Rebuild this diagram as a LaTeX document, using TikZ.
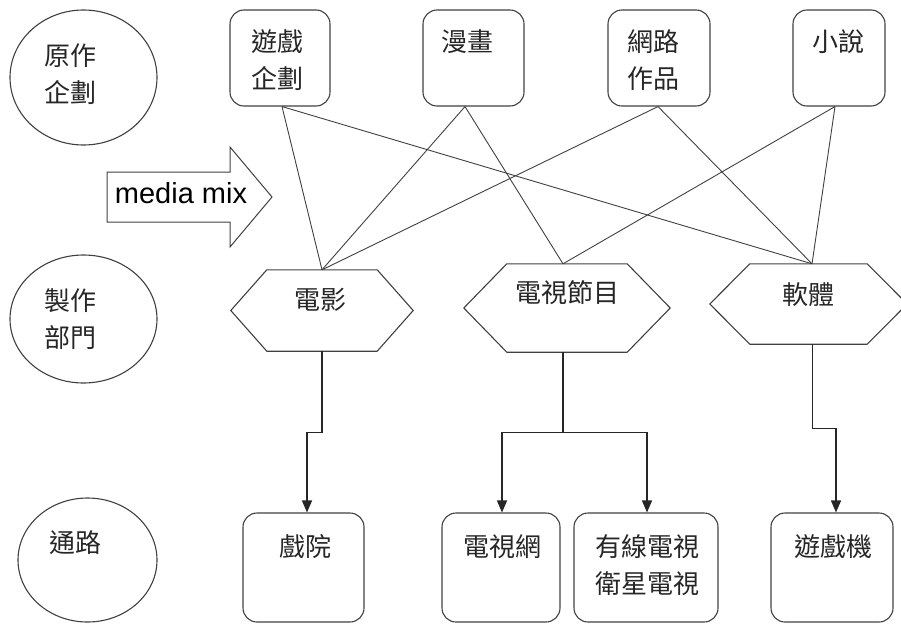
\documentclass[tikz,border=0pt]{standalone}
\usepackage{fontspec}
\setmainfont{Liberation Sans}
\newfontfamily\cjk{Noto Sans CJK TC}
\usetikzlibrary{arrows.meta,shapes.geometric,calc}
\newcommand\drawhexagon[2]{\draw[lc] (#1.west) -- ([xshift=#2]#1.north west) -- ([xshift=-#2]#1.north east) -- (#1.east) -- ([xshift=-#2]#1.south east) -- ([xshift=#2]#1.south west) -- cycle;}
\begin{document}
\begin{tikzpicture}[x=1pt,y=-1pt,
  lc/.style={draw=black!75, line width=1.1pt},
  ell/.style={ellipse, lc, inner sep=0pt},
  rbox/.style={rectangle, rounded corners=14pt, lc, inner sep=0pt},
  hexbox/.style={rectangle, inner sep=0pt},
  cjktxt/.style={font=\cjk\fontsize{26}{37}\selectfont, align=center, inner sep=0pt, text=black!85},
  link/.style={draw=black!75, line width=0.9pt},
  trunk/.style={draw=black!85, line width=1.4pt},
  flow/.style={trunk, -{Triangle[width=10pt,length=12pt]}},
]
\useasboundingbox (0,0) rectangle (901,624);

% row labels (ellipses)
\node[ell, minimum width=147pt, minimum height=135pt] (c1) at (83.5,77.5) {};
\node[cjktxt] (c1t) at (70,74) {原作\\企劃};
\node[ell, minimum width=147pt, minimum height=128pt] (c2) at (83.5,319) {};
\node[cjktxt] (c2t) at (70,319) {製作\\部門};
\node[ell, minimum width=139pt, minimum height=124pt] (c3) at (87.5,560) {};
\node[cjktxt] (c3t) at (75,543) {通路};

% top boxes
\node[rbox, minimum width=100pt, minimum height=96pt] (g1) at (280,58) {};
\node[rbox, minimum width=101pt, minimum height=96pt] (g2) at (473.5,58) {};
\node[rbox, minimum width=102pt, minimum height=96pt] (g3) at (659,58) {};
\node[rbox, minimum width=92pt, minimum height=96pt] (g4) at (839,58) {};
\node[cjktxt] (g1t) at (277,60) {遊戲\\企劃};
\node[cjktxt] (g2t) at (467,42) {漫畫};
\node[cjktxt] (g3t) at (653,60) {網路\\作品};
\node[cjktxt] (g4t) at (838,42) {小說};

% media mix arrow
\draw[lc, line width=1pt] (107,172) -- (230,172) -- (230,147) -- (272,197) -- (230,247) -- (230,222) -- (107,222) -- cycle;
\node[anchor=base, inner sep=0pt, font=\fontsize{29}{34}\selectfont] (mm) at (181,203) {media mix};

% hexagons
\node[hexbox, minimum width=182pt, minimum height=81pt] (film) at (322,310.5) {};
\node[hexbox, minimum width=206pt, minimum height=88pt] (tv) at (567,308) {};
\node[hexbox, minimum width=197pt, minimum height=80pt] (soft) at (808.5,304) {};
\drawhexagon{film}{36pt}
\drawhexagon{tv}{43pt}
\drawhexagon{soft}{40pt}
\node[cjktxt] (filmt) at (320,300) {電影};
\node[cjktxt] (tvt) at (567,293) {電視節目};
\node[cjktxt] (softt) at (808,295) {軟體};

% connection points
\coordinate (g1b) at ([xshift=2pt]g1.south);
\coordinate (g2b) at ([xshift=-8.5pt]g2.south);
\coordinate (g3b) at ([xshift=-1pt]g3.south);
\coordinate (g4b) at ([xshift=-4pt]g4.south);
\coordinate (filmn) at (film.north);
\coordinate (tvn) at ([xshift=-4pt]tv.north);
\coordinate (softn) at ([xshift=3.5pt]soft.north);

\draw[link] (g1b) -- (filmn);
\draw[link] (g1b) -- (softn);
\draw[link] (g2b) -- (filmn);
\draw[link] (g2b) -- (tvn);
\draw[link] (g3b) -- (filmn);
\draw[link] (g3b) -- (softn);
\draw[link] (g4b) -- (tvn);
\draw[link] (g4b) -- (softn);

% bottom boxes
\node[rbox, minimum width=121pt, minimum height=109pt] (b1) at (303.5,567.5) {};
\node[rbox, minimum width=118pt, minimum height=109pt] (b2) at (501,567.5) {};
\node[rbox, minimum width=144pt, minimum height=109pt] (b3) at (646,567.5) {};
\node[rbox, minimum width=122pt, minimum height=109pt] (b4) at (832,567.5) {};
\node[cjktxt] (b1t) at (305,547) {戲院};
\node[cjktxt] (b2t) at (502,547) {電視網};
\node[cjktxt] (b3t) at (647,565) {有線電視\\衛星電視};
\node[cjktxt] (b4t) at (833,547) {遊戲機};

% distribution flows
\draw[flow] (film.south) -- ++(0,81) -| ([xshift=3.5pt]b1.north);
\draw[trunk] ([xshift=-4pt]tv.south) -- ++(0,80) coordinate (tvj);
\draw[flow] (tvj) -| ([xshift=1pt]b2.north);
\draw[flow] (tvj) -| ([xshift=1pt]b3.north);
\draw[flow] ([xshift=4pt]soft.south) -- ++(0,84) -| ([xshift=4pt]b4.north);
\end{tikzpicture}
\end{document}
